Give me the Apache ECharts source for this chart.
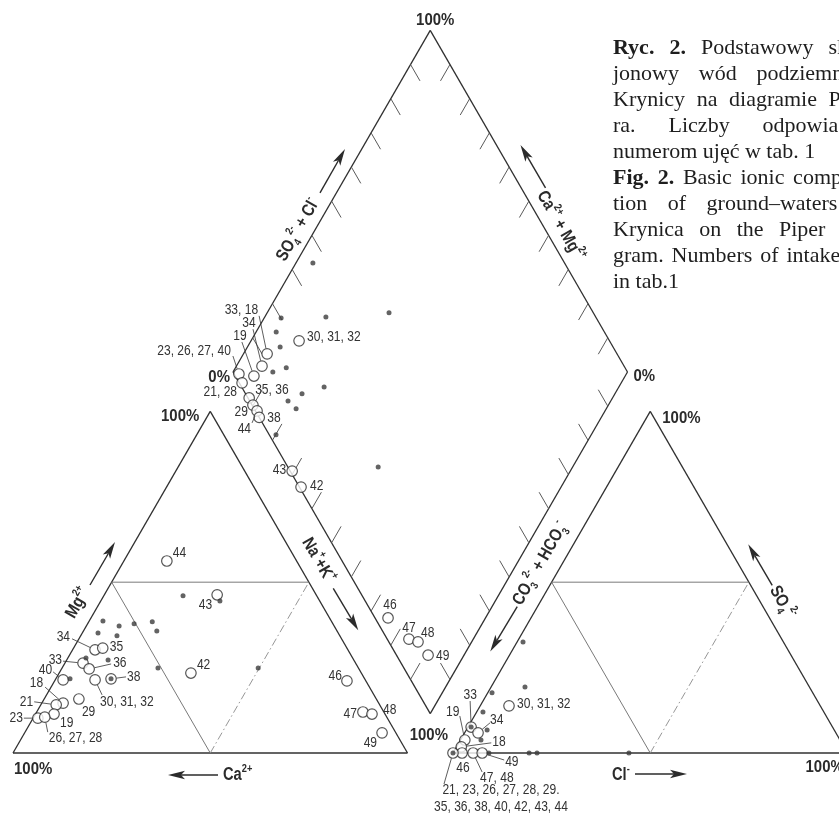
<!DOCTYPE html>
<html>
<head>
<meta charset="utf-8">
<script src="https://cdn.jsdelivr.net/npm/echarts@6/dist/echarts.min.js"></script>
<style>
html, body { margin: 0; padding: 0; background: #fff; }
#chart { width: 839px; height: 821px; }
</style>
</head>
<body>
<div id="chart"></div>
<script>
// ---------------------------------------------------------------
// Piper diagram of ground-water samples from Krynica
// ---------------------------------------------------------------

// Cation triangle: [sample numbers, Na+ + K+ (%), Mg2+ (%)]
const cationSamples = [
  ['34', 5.7, 30.2], ['35', 7.4, 30.7], ['33', 4.6, 26.3], ['36', 7.0, 24.6],
  ['40', 2.0, 21.4], ['38', 14.0, 21.7], ['30, 31, 32', 10.1, 21.4], ['29', 8.8, 15.8],
  ['18', 5.4, 14.6], ['21', 3.9, 14.1], ['19', 4.7, 11.4], ['23', 1.2, 10.2],
  ['26, 27, 28', 2.8, 10.5], ['42', 33.4, 23.4], ['46', 74.1, 21.1], ['47', 82.7, 12.0],
  ['48', 85.3, 11.4], ['49', 90.6, 5.9], ['44', 10.9, 56.2], ['43', 28.6, 46.3]
];
// Cation triangle, unnumbered samples: [Na+ + K+ (%), Mg2+ (%)]
const cationDots = [
  [3.5, 38.6], [8.3, 37.2], [11.8, 37.8], [16.1, 38.4], [18.6, 35.7], [4.0, 35.1],
  [9.2, 34.3], [10.5, 27.2], [4.6, 27.8], [3.6, 21.7], [24.3, 24.9], [49.7, 24.9],
  [20.1, 46.0], [30.2, 44.5], [14.0, 21.7]
];

// Anion triangle: [sample numbers, Cl- (%), SO4 2- (%)]
const anionSamples = [
  ['30, 31, 32', 7.3, 13.8], ['33', 0.8, 7.6], ['34', 3.4, 5.9], ['19', 1.1, 3.8],
  ['18', 1.2, 1.8], ['46', 2.3, 0], ['47, 48', 5.1, 0], ['49', 7.4, 0],
  ['21, 23, 26, 27, 28, 29.\n35, 36, 38, 40, 42, 43, 44', 0, 0]
];
// Anion triangle, unnumbered samples: [Cl- (%), SO4 2- (%)]
const anionDots = [
  [1.5, 32.5], [8.6, 19.3], [1.1, 17.6], [1.6, 12.0], [5.3, 6.7], [5.2, 3.8],
  [9.1, 0], [19.3, 0], [21.3, 0], [44.6, 0], [0.8, 7.6], [0, 0]
];

// Diamond: [sample numbers, Na+ + K+ (%), SO4 2- + Cl- (%)]
const diamondSamples = [
  ['33, 18', 6.0, 11.3], ['34', 6.5, 8.2], ['19', 5.9, 4.7], ['23, 26, 27, 40', 1.8, 1.2],
  ['21, 28', 3.9, 0.7], ['35, 36', 7.9, 0.3], ['29', 9.9, 0.2], ['44', 11.8, 0.4],
  ['38', 13.3, 0], ['30, 31, 32', 12.2, 21.3], ['43', 29.5, 0.5], ['42', 34.1, 0.4],
  ['46', 75.3, 3.3], ['47', 83.7, 5.5], ['48', 86.4, 7.4], ['49', 90.9, 8.0]
];
// Diamond, unnumbered samples: [Na+ + K+ (%), SO4 2- + Cl- (%)]
const diamondDots = [
  [4.3, 36.2], [4.3, 20.1], [15.5, 31.6], [30.9, 48.2], [5.1, 16.8], [8.3, 15.6],
  [12.9, 14.1], [10.1, 10.1], [25.3, 20.9], [20.7, 14.3], [18.2, 9.7], [21.4, 10.6],
  [20.1, 1.7], [50.7, 22.9]
];

// Gridline percentages on the diamond edges
const tickPercents = [10, 20, 30, 40, 50, 60, 70, 80, 90];

// Caption lines (bold prefix, body, justified?)
const captionLines = [
  ['Ryc. 2.', 'Podstawowy skład', true],
  ['', 'jonowy wód podziemnych', true],
  ['', 'Krynicy na diagramie Pipe-', true],
  ['', 'ra. Liczby odpowiadają', true],
  ['', 'numerom ujęć w tab. 1', false],
  ['Fig. 2.', 'Basic ionic composi-', true],
  ['', 'tion of ground–waters in', true],
  ['', 'Krynica on the Piper dia-', true],
  ['', 'gram. Numbers of intakes as', true],
  ['', 'in tab.1', false]
];

// ---------------------------------------------------------------
// Ternary geometry (units: % of a triangle side)
// ---------------------------------------------------------------
const H = Math.sqrt(3) / 2;
const GAP = 11.53;              // space between the two triangles
const OX = 100 + GAP;           // left corner of the anion triangle
const cat = (na, mg) => [na + mg / 2, mg * H];
const an = (cl, so4) => [OX + cl + so4 / 2, so4 * H];
const dia = (nak, sc) => { const t = 100 + GAP + sc - nak; return [nak + t / 2, t * H]; };

// page scale
const PX = 3.945, X0 = 13, Y0 = 753, PW = 839, PH = 821;

// ---------------------------------------------------------------
// Label layout: text offset [dx, dy] px, alignment, leader start
// ---------------------------------------------------------------
const cationPlace = {
  '34': { t: [-25, -13], a: 'right', l: [-23, -11] },
  '35': { t: [7, -1], a: 'left' },
  '33': { t: [-21, -3], a: 'right', l: [-20, -2] },
  '36': { t: [24, -6], a: 'left', l: [22, -5] },
  '40': { t: [-11, -10], a: 'right', l: [-10, -8] },
  '38': { t: [16, -2], a: 'left', l: [15, -2] },
  '30, 31, 32': { t: [5, 22], a: 'left', l: [7, 15] },
  '29': { t: [3, 13], a: 'left' },
  '18': { t: [-20, -20], a: 'right', l: [-18, -16] },
  '21': { t: [-23, -3], a: 'right', l: [-22, -3] },
  '19': { t: [6, 9], a: 'left' },
  '23': { t: [-15, 0], a: 'right', l: [-14, 0] },
  '26, 27, 28': { t: [4, 21], a: 'left', l: [3, 15] },
  '42': { t: [6, -8], a: 'left' },
  '46': { t: [-5, -5], a: 'right' },
  '47': { t: [-6, 2], a: 'right' },
  '48': { t: [11, -4], a: 'left' },
  '49': { t: [-5, 10], a: 'right' },
  '44': { t: [6, -8], a: 'left' },
  '43': { t: [-5, 10], a: 'right' }
};
const anionPlace = {
  '30, 31, 32': { t: [8, -2], a: 'left' },
  '33': { t: [-1, -32], a: 'center', l: [-1, -26] },
  '34': { t: [12, -13], a: 'left', l: [12, -10] },
  '19': { t: [-12, -28], a: 'center', l: [-5, -24] },
  '18': { t: [31, -5], a: 'left', l: [30, -4] },
  '46': { t: [1, 15], a: 'center' },
  '47, 48': { t: [7, 25], a: 'left', l: [9, 19] },
  '49': { t: [23, 9], a: 'left', l: [22, 7] },
  '21, 23, 26, 27, 28, 29.\n35, 36, 38, 40, 42, 43, 44': { t: [48, 46], a: 'center', l: [-9, 31] }
};
const diamondPlace = {
  '33, 18': { t: [-9, -44], a: 'right', l: [-8, -38] },
  '34': { t: [-13, -43], a: 'center', l: [-9, -37] },
  '19': { t: [-14, -40], a: 'center', l: [-12, -34] },
  '23, 26, 27, 40': { t: [-8, -23], a: 'right', l: [-6, -18] },
  '21, 28': { t: [-5, 9], a: 'right' },
  '35, 36': { t: [6, -8], a: 'left' },
  '29': { t: [-5, 7], a: 'right' },
  '44': { t: [-6, 18], a: 'right', l: [-5, 12] },
  '38': { t: [8, 1], a: 'left' },
  '30, 31, 32': { t: [8, -4], a: 'left' },
  '43': { t: [-6, -1], a: 'right' },
  '42': { t: [9, -1], a: 'left' },
  '46': { t: [2, -13], a: 'center' },
  '47': { t: [0, -11], a: 'center' },
  '48': { t: [3, -9], a: 'left' },
  '49': { t: [8, 1], a: 'left' }
};

// ---------------------------------------------------------------
// Build drawing data
// ---------------------------------------------------------------
const SOLID = 0, THIN = 1, DASHDOT = 2, TICK = 3;
const segs = [];
function poly(pts, kind) {
  for (let i = 0; i < pts.length - 1; i++) segs.push([...pts[i], ...pts[i + 1], kind]);
}
// cation triangle
poly([cat(0, 0), cat(100, 0), cat(0, 100), cat(0, 0)], SOLID);
poly([cat(0, 50), cat(50, 50)], THIN);
poly([cat(0, 50), cat(50, 0)], THIN);
poly([cat(50, 0), cat(50, 50)], DASHDOT);
// anion triangle
poly([an(0, 0), an(100, 0), an(0, 100), an(0, 0)], SOLID);
poly([an(0, 50), an(50, 50)], THIN);
poly([an(0, 50), an(50, 0)], THIN);
poly([an(50, 0), an(50, 50)], DASHDOT);
// diamond
poly([dia(0, 0), dia(0, 100), dia(100, 100), dia(100, 0), dia(0, 0)], SOLID);
const TL = 4.8;
tickPercents.forEach(p => {
  poly([dia(0, p), dia(TL, p)], TICK);
  poly([dia(p, 100), dia(p, 100 - TL)], TICK);
  poly([dia(p, 0), dia(p, TL)], TICK);
  poly([dia(100, p), dia(100 - TL, p)], TICK);
});

const labelled = [];
cationSamples.forEach(([n, a, b]) => labelled.push({ p: cat(a, b), n, pl: cationPlace[n] }));
anionSamples.forEach(([n, a, b]) => labelled.push({ p: an(a, b), n, pl: anionPlace[n] }));
diamondSamples.forEach(([n, a, b]) => labelled.push({ p: dia(a, b), n, pl: diamondPlace[n] }));
const dots = [
  ...cationDots.map(([a, b]) => cat(a, b)),
  ...anionDots.map(([a, b]) => an(a, b)),
  ...diamondDots.map(([a, b]) => dia(a, b))
];

// ---------------------------------------------------------------
// Text helpers
// ---------------------------------------------------------------
const SANS = "'Liberation Sans', Arial, Helvetica, sans-serif";
const SERIF = "'Liberation Serif', 'Times New Roman', serif";
const INK = '#2b2b2b';
const RICH = {
  b: { fontSize: 17.5, fontWeight: 'bold', fontFamily: SANS, lineHeight: 24, fill: INK, color: INK },
  sup: { fontSize: 11, fontWeight: 'bold', fontFamily: SANS, lineHeight: 24, verticalAlign: 'top', fill: INK, color: INK },
  sub: { fontSize: 11, fontWeight: 'bold', fontFamily: SANS, lineHeight: 24, verticalAlign: 'bottom', fill: INK, color: INK }
};
function ionText(str, x, y, rot, align) {
  return {
    type: 'text', x, y, rotation: rot, scaleX: 0.84,
    style: { text: str, rich: RICH, align: align, textAlign: align, verticalAlign: 'middle', textVerticalAlign: 'middle', fill: INK }
  };
}
function boldText(str, x, y, align) {
  return {
    type: 'text', x, y, scaleX: 0.88,
    style: { text: str, fontSize: 17, fontWeight: 'bold', fontFamily: SANS, fill: INK,
      align: align, textAlign: align, verticalAlign: 'middle', textVerticalAlign: 'middle' }
  };
}
function arrow(x0, y0, x1, y1) {
  const dx = x1 - x0, dy = y1 - y0, L = Math.hypot(dx, dy), ux = dx / L, uy = dy / L;
  const px = -uy, py = ux, hl = 17, hw = 4.2, notch = 13;
  return [
    { type: 'line', shape: { x1: x0, y1: y0, x2: x1 - ux * notch, y2: y1 - uy * notch },
      style: { stroke: INK, lineWidth: 1.4 } },
    { type: 'polygon', shape: { points: [
        [x1, y1],
        [x1 - ux * hl + px * hw, y1 - uy * hl + py * hw],
        [x1 - ux * notch, y1 - uy * notch],
        [x1 - ux * hl - px * hw, y1 - uy * hl - py * hw]] },
      style: { fill: INK } }
  ];
}

// ---------------------------------------------------------------
// Chart
// ---------------------------------------------------------------
const chart = echarts.init(document.getElementById('chart'), null, { renderer: 'canvas' });

const segStyle = [
  { stroke: '#303030', lineWidth: 1.3 },
  { stroke: '#6a6a6a', lineWidth: 0.9 },
  { stroke: '#8a8a8a', lineWidth: 0.9, lineDash: [8, 3, 1.5, 3] },
  { stroke: '#5a5a5a', lineWidth: 1 }
];

chart.setOption({
  animation: false,
  backgroundColor: '#fff',
  grid: { left: 0, right: 0, top: 0, bottom: 0, containLabel: false },
  xAxis: { type: 'value', min: -X0 / PX, max: (PW - X0) / PX, show: false },
  yAxis: { type: 'value', min: -(PH - Y0) / PX, max: Y0 / PX, show: false },
  series: [
    {
      // triangles, diamond, inner lines and ticks
      type: 'custom', silent: true, z: 1,
      data: segs,
      renderItem(params, api) {
        const a = api.coord([api.value(0), api.value(1)]);
        const b = api.coord([api.value(2), api.value(3)]);
        return { type: 'line', shape: { x1: a[0], y1: a[1], x2: b[0], y2: b[1] },
          style: Object.assign({}, segStyle[api.value(4)]) };
      }
    },
    {
      type: 'scatter', silent: true, z: 3,
      data: labelled.map(d => d.p),
      symbol: 'circle', symbolSize: 10.5,
      itemStyle: { color: '#fff', borderColor: '#2a2a2a', borderWidth: 1.2 }
    },
    {
      type: 'scatter', silent: true, z: 4,
      data: dots,
      symbol: 'circle', symbolSize: 5,
      itemStyle: { color: '#3c3c3c' }
    },
    {
      // sample numbers with leader lines
      type: 'custom', silent: true, z: 5,
      data: labelled.map(d => d.p),
      renderItem(params, api) {
        const d = labelled[params.dataIndex];
        const c = api.coord([api.value(0), api.value(1)]);
        const pl = d.pl;
        const children = [{
          type: 'text', x: c[0] + pl.t[0], y: c[1] + pl.t[1], scaleX: 0.86,
          style: { text: d.n, fontSize: 14, fontFamily: SANS, fill: '#333', lineHeight: 17,
            align: pl.a, textAlign: pl.a, verticalAlign: 'middle', textVerticalAlign: 'middle' }
        }];
        if (pl.l) {
          const lx = pl.l[0], ly = pl.l[1], L = Math.hypot(lx, ly), r = 5.5;
          children.push({ type: 'line', shape: {
              x1: c[0] + lx, y1: c[1] + ly, x2: c[0] + lx / L * r, y2: c[1] + ly / L * r },
            style: { stroke: '#333', lineWidth: 0.8 } });
        }
        return { type: 'group', children };
      }
    },
    {
      // corner percentages, axis names and arrows
      type: 'custom', silent: true, z: 6,
      data: [[0, 0]],
      renderItem(params, api) {
        const P = p => api.coord(p);
        const LA = P(cat(0, 0)), LC = P(cat(0, 100));
        const RA = P(an(0, 0)), RB = P(an(100, 0)), RC = P(an(0, 100));
        const DL = P(dia(0, 0)), DT = P(dia(0, 100)), DR = P(dia(100, 100)), DB = P(dia(100, 0));
        const at = (v, dx, dy) => [v[0] + dx, v[1] + dy];
        const A = (v, a, b, c, d) => arrow(v[0] + a, v[1] + b, v[0] + c, v[1] + d);
        const k = [];
        const add = e => k.push(e);
        // percentages
        add(boldText('100%', ...at(LA, 1, 16), 'left'));
        add(boldText('100%', ...at(LC, -11, 5), 'right'));
        add(boldText('100%', ...at(DT, 5, -10), 'center'));
        add(boldText('0%', ...at(DL, -3, 5), 'right'));
        add(boldText('0%', ...at(DR, 6, 4), 'left'));
        add(boldText('100%', ...at(RC, 12, 7), 'left'));
        add(boldText('100%', ...at(RA, -5, -18), 'right'));
        add(boldText('100%', ...at(RB, -42, 14), 'left'));
        // cation axes
        add(ionText('{b|Mg}{sup|2+}', ...at(LA, 65, -150), Math.PI / 3, 'center'));
        A(LA, 77, -168, 102, -211).forEach(add);
        add(ionText('{b|Ca}{sup|2+}', ...at(LA, 210, 22), 0, 'left'));
        A(LA, 205, 22, 155, 22).forEach(add);
        add(ionText('{b|Na}{sup|+}{b|+K}{sup|+}', ...at(LC, 108, 149), -Math.PI / 3, 'center'));
        A(LC, 123, 177, 148, 219).forEach(add);
        // diamond axes
        add(ionText('{b|SO}{sub|4}{sup|2-}{b| + Cl}{sup|-}', ...at(DL, 65, -142), Math.PI / 3, 'center'));
        A(DL, 87, -179, 112, -223).forEach(add);
        add(ionText('{b|Ca}{sup|2+}{b| + Mg}{sup|2+}', ...at(DR, -67, -146), -Math.PI / 3, 'center'));
        A(DR, -82, -184, -107, -227).forEach(add);
        add(ionText('{b|CO}{sub|3}{sup|2-}{b| + HCO}{sub|3}{sup|-}', ...at(DB, 110, -150), Math.PI / 3, 'center'));
        A(DB, 87, -107, 60, -62).forEach(add);
        // anion axes
        add(ionText('{b|SO}{sub|4}{sup|2-}', ...at(RC, 132, 191), -Math.PI / 3, 'center'));
        A(RC, 122, 174, 98, 133).forEach(add);
        add(ionText('{b|Cl}{sup|-}', ...at(RA, 159, 22), 0, 'left'));
        A(RA, 182, 21, 234, 21).forEach(add);
        return { type: 'group', children: k };
      }
    }
  ]
});

// ---------------------------------------------------------------
// Caption block (justified serif text, top right)
// ---------------------------------------------------------------
(function caption() {
  const size = 22, left = 613, width = 262, top = 48, step = 26;
  const ctx = document.createElement('canvas').getContext('2d');
  const font = b => `${b ? 'bold ' : ''}${size}px ${SERIF}`;
  const els = [];
  captionLines.forEach(([bold, body, just], i) => {
    const words = [];
    if (bold) bold.split(' ').forEach(w => words.push([w, true]));
    body.split(' ').forEach(w => words.push([w, false]));
    const widths = words.map(([w, b]) => { ctx.font = font(b); return ctx.measureText(w).width; });
    ctx.font = font(false);
    const space = ctx.measureText(' ').width;
    const total = widths.reduce((s, v) => s + v, 0);
    const gap = just && words.length > 1 ? (width - total) / (words.length - 1) : space;
    let x = left;
    const y = top + i * step;
    words.forEach(([w, b], j) => {
      els.push({ type: 'text', x, y, silent: true,
        style: { text: w, font: font(b), fill: '#1e1e1e',
          verticalAlign: 'middle', textVerticalAlign: 'middle' } });
      x += widths[j] + gap;
    });
  });
  chart.setOption({ graphic: { elements: els } });
})();
</script>
</body>
</html>
